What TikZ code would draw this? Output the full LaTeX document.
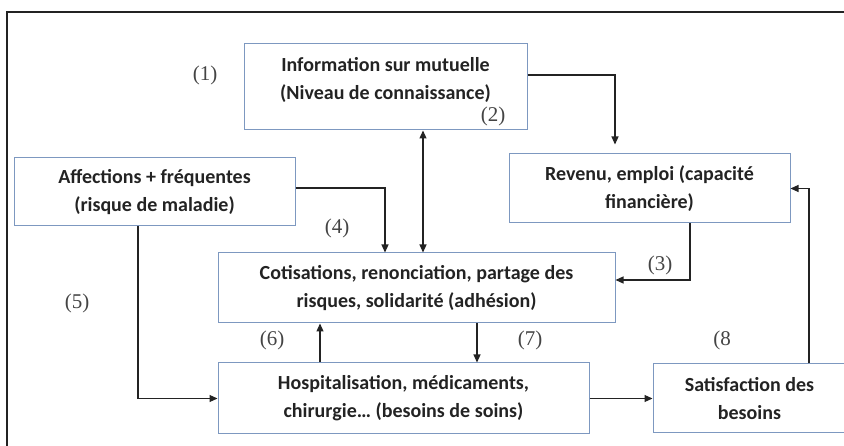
\documentclass[tikz,border=0pt]{standalone}
\usepackage{fontspec}
\setmainfont{Liberation Serif}
\newfontfamily\boxfont{Carlito}
\usepackage{tikz}
\usetikzlibrary{arrows.meta,positioning}
\definecolor{boxblue}{RGB}{125,152,192}
\definecolor{ink}{RGB}{35,35,35}
\tikzset{>/.tip={Triangle[length=8pt,width=7pt]}}
\tikzset{bloc/.style={draw=boxblue,line width=1pt,inner sep=0pt,align=center,text=ink,
  font=\boxfont\bfseries\fontsize{20}{28}\selectfont}}
\tikzset{num/.style={text=ink!85,font=\fontsize{21}{22}\selectfont}}
\tikzset{lien/.style={->,draw=ink,line width=1.1pt}}

\begin{document}
\begin{tikzpicture}[x=1pt,y=-1pt,on grid]
        \useasboundingbox (0,0) rectangle (844,446);
        \draw[ink,line width=1.5pt] (7,446) -- (7,12) -- (844,12);
        \node(info)[bloc,minimum width=283pt,minimum height=86pt,text depth=17pt] at (385.5,87)
          {Information sur mutuelle\\(Niveau de connaissance)};
        \node(cot)[bloc,minimum width=397pt,minimum height=70pt,below right=201pt and 31pt of info]
          {Cotisations, renonciation, partage des\\risques, solidarité (adhésion)};
        \node(hosp)[bloc,minimum width=371pt,minimum height=71pt,below left=110.5pt and 13pt of cot]
          {Hospitalisation, médicaments,\\chirurgie… (besoins de soins)};
        \node(aff)[bloc,minimum width=281pt,minimum height=68pt,above left=96pt and 262pt of cot]
          {Affections + fréquentes\\(risque de maladie)};
        \node(rev)[bloc,minimum width=281pt,minimum height=69pt,above right=99.5pt and 233pt of cot]
          {Revenu, emploi (capacité\\financière)};
        \node(sat)[bloc,minimum width=193pt,minimum height=69pt,right=346pt of hosp]
          {Satisfaction des\\besoins};
        \draw[lien] ([yshift=12pt]info.east) -| ([xshift=-34.5pt,yshift=9pt]rev.north);
        \draw[lien] ([yshift=4pt]aff.east) -| ([xshift=-31.5pt]cot.north);
        \draw[lien,<->] ([xshift=37.5pt]info.south) -- ([xshift=37.5pt]info.south |- cot.north);
        \draw[lien] ([xshift=40.5pt]rev.south) |- ([yshift=8pt]cot.east);
        \draw[lien] ([xshift=-83.5pt]hosp.north) -- ([xshift=-83.5pt]hosp.north |- cot.south);
        \draw[lien] ([xshift=60.5pt]cot.south) -- ([xshift=60.5pt]cot.south |- hosp.north);
        \draw[lien] ([xshift=-16.5pt]aff.south) |- (hosp.west);
        \draw[lien] (hosp.east) -- (sat.west);
        \draw[lien] ([xshift=59.5pt]sat.north) |- (rev.east);
        \node(n1)[num] at (205,75) {(1)};
        \node(n2)[num] at (493,116) {(2)};
        \node(n3)[num] at (660,265) {(3)};
        \node(n4)[num] at (337,228) {(4)};
        \node(n5)[num] at (77,303) {(5)};
        \node(n6)[num] at (272,340) {(6)};
        \node(n7)[num] at (530,340) {(7)};
        \node(n8)[num] at (722,340) {(8};
      \end{tikzpicture}
\end{document}
